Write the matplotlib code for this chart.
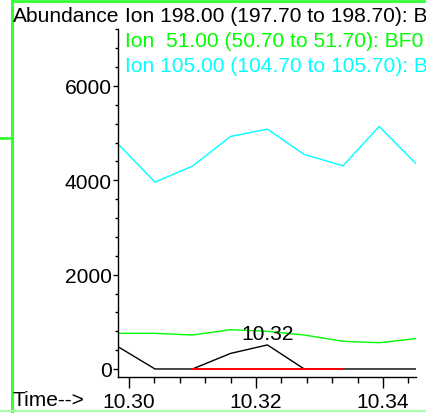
import matplotlib.pyplot as plt
from matplotlib.ticker import MultipleLocator, FormatStrFormatter

plt.rcParams['font.family'] = ['Liberation Sans', 'DejaVu Sans']

# scan times (min) and extracted ion abundances
times = [10.2983, 10.3041, 10.3100, 10.3160, 10.3218, 10.3276, 10.3337, 10.3394, 10.3451]
ion198 = [470, 0, 0, 330, 510, 0, 0, 0, 0]
ion51 = [756, 756, 720, 833, 798, 720, 587, 557, 642]
ion105 = [4767, 3962, 4301, 4930, 5085, 4548, 4307, 5142, 4364]

# integrated peak on ion 198 (baseline start/end and apex)
peak_start = 10.3100
peak_end = 10.3337
peak_rt = 10.3218
peak_height = 510

legend_labels = ['Ion 198.00 (197.70 to 198.70): BF0',
                 'Ion  51.00 (50.70 to 51.70): BF0',
                 'Ion 105.00 (104.70 to 105.70): BF0']
legend_colors = ['black', '#00ff00', '#00ffff']

W, H = 426, 414
fig = plt.figure(figsize=(W / 100, H / 100), dpi=100)
fs = 15.1

ax = fig.add_axes([118 / W, 1 - 378 / H, (416 - 118) / W, (378 - 30) / H])
ax.plot(times, ion105, color='#00ffff', lw=1.0)
ax.plot(times, ion51, color='#00ff00', lw=1.0)
ax.plot(times, ion198, color='black', lw=1.0)
ax.plot([peak_start, peak_end], [0, 0], color='#ff0000', lw=1.4)
ax.annotate(f'{peak_rt:.2f}', xy=(peak_rt, peak_height), xytext=(0, 4),
            textcoords='offset points', ha='center', va='baseline', fontsize=fs)

ax.set_xlim(10.29827, 10.3452)
ax.set_ylim(-170, 7208)
ax.xaxis.set_major_locator(MultipleLocator(0.02))
ax.xaxis.set_minor_locator(MultipleLocator(0.004))
ax.xaxis.set_major_formatter(FormatStrFormatter('%.2f'))
ax.yaxis.set_major_locator(MultipleLocator(2000))
ax.yaxis.set_minor_locator(MultipleLocator(400))
ax.tick_params(axis='x', which='major', length=8, width=1, labelsize=fs, pad=3)
ax.tick_params(axis='x', which='minor', length=4, width=1)
ax.tick_params(axis='y', which='major', length=3.5, width=1, labelsize=fs, pad=1)
ax.tick_params(axis='y', which='minor', length=2, width=1)
for s in ['top', 'right']:
    ax.spines[s].set_visible(False)
for s in ['left', 'bottom']:
    ax.spines[s].set_linewidth(1)

# header texts
fig.text(12.5 / W, 1 - 17 / H, 'Abundance', fontsize=fs, va='center', ha='left')
for i, (lab, col) in enumerate(zip(legend_labels, legend_colors)):
    fig.text(125 / W, 1 - (17 + 24.5 * i) / H, lab, color=col, fontsize=fs,
             va='center', ha='left')
fig.text(12.5 / W, 1 - 401 / H, 'Time-->', fontsize=fs, va='center', ha='left')

# window frame lines
frame = '#33ff33'
fig.add_artist(plt.Line2D([11.5 / W, 11.5 / W], [0, 1], color=frame, lw=2.2))
fig.add_artist(plt.Line2D([11.5 / W, 1], [1 - 1.5 / H, 1 - 1.5 / H], color=frame, lw=2))
fig.add_artist(plt.Line2D([0, 11.5 / W], [1 - 139 / H, 1 - 139 / H], color=frame, lw=2))
fig.add_artist(plt.Line2D([0, 1], [1 - 411.5 / H, 1 - 411.5 / H], color='#a8ffa8', lw=1.5))

fig.savefig('out.png', dpi=100)
